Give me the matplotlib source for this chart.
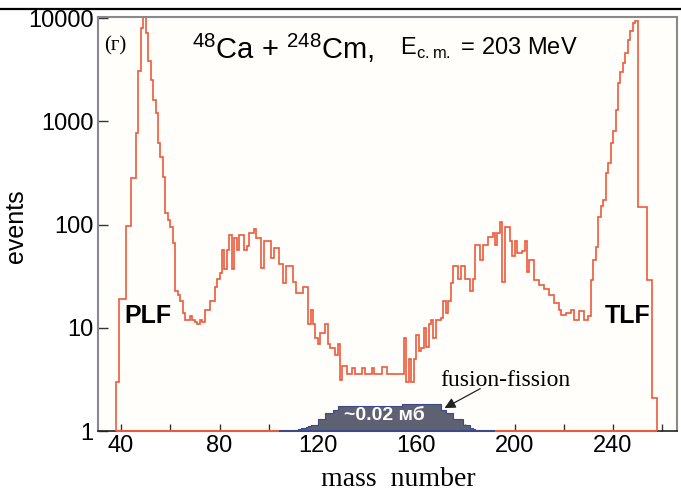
import numpy as np
import matplotlib
matplotlib.use("Agg")
from matplotlib import pyplot as plt

plt.rcParams['font.family'] = ['Liberation Sans', 'DejaVu Sans']
plt.rcParams['mathtext.fontset'] = 'custom'
plt.rcParams['mathtext.rm'] = 'Liberation Sans'

# events per unit mass bin, masses 38..257
mass_start = 38
events = [
    3, 19, 19, 19, 97, 97, 285, 285, 770, 3100,            # 38
    8000, 10500, 7200, 3900, 2500, 1600, 1200, 620, 450, 290,  # 48
    130, 110, 95, 66, 23, 21, 18, 14, 12, 12,              # 58
    13, 12, 11.5, 11, 12, 11.5, 15, 15, 18, 18,            # 68
    25, 30, 34, 57, 37, 57, 80, 37, 75, 57,                # 78
    80, 80, 57, 62, 83, 83, 90, 75, 75, 38,                # 88
    70, 70, 70, 48, 60, 60, 42, 42, 27, 40,                # 98
    40, 40, 28, 22, 22, 22, 25, 25, 11, 15,                # 108
    11, 8, 7, 9, 9, 11, 7, 6.4, 6.4, 5.5,                  # 118
    7, 3.1, 4.3, 4.3, 3.6, 3.6, 4.1, 3.6, 3.6, 3.6,        # 128
    4.1, 3.6, 3.6, 3.6, 4.1, 3.6, 3.6, 3.6, 4.2, 4.2,      # 138
    3.6, 3.6, 3.6, 3.6, 3.6, 3.6, 3.6, 8, 3.0, 5,          # 148
    3.0, 5, 8.5, 6, 6.4, 10, 6.5, 11, 12, 8,               # 158
    12, 12, 12.4, 18, 14, 18, 27, 40, 40, 30,              # 168
    40, 40, 30, 30, 23, 30, 63, 63, 45, 63,                # 178
    63, 76, 76, 83, 63, 83, 105, 28, 95, 95,               # 188
    70, 50, 70, 53, 53, 55, 70, 35, 45, 45,                # 198
    29, 29, 26, 26, 24, 24, 21, 21, 17.5, 17.5,            # 208
    15, 13.3, 13.3, 14, 14, 15, 12, 12, 14.5, 14.5,        # 218
    12, 12, 13, 29, 45, 61, 118, 150, 172, 315,            # 228
    400, 620, 800, 1280, 2350, 3000, 3700, 4600, 6200, 7500,  # 238
    9000, 9500, 148, 148, 148, 148, 29, 29, 2.1, 2.1,      # 248
]

# fusion-fission component, masses 110..185
ff_start = 110
ff_events = [
    1.02, 1.03, 1.05, 1.06, 1.08, 1.1, 1.12, 1.14, 1.14, 1.14,
    1.3, 1.3, 1.3, 1.5, 1.5, 1.5, 1.6, 1.6, 1.75, 1.75,
    1.75, 1.75, 1.75, 1.75, 1.75, 1.75, 1.75, 1.75, 1.75, 1.75,
    1.75, 1.75, 1.75, 1.75, 1.75, 1.75, 1.75, 1.75, 1.75, 1.75,
    1.75, 1.75, 1.75, 1.75, 1.83, 1.83, 1.83, 1.83, 1.83, 1.83,
    1.83, 1.83, 1.83, 1.83, 1.83, 1.83, 1.83, 1.83, 1.83, 1.83,
    1.6, 1.6, 1.5, 1.5, 1.5, 1.3, 1.3, 1.3, 1.3, 1.15,
    1.15, 1.15, 1.08, 1.05, 1.03, 1.02,
]

x_ticks = [40, 80, 120, 160, 200, 240]
y_ticks = [1, 10, 100, 1000, 10000]

edges = np.arange(mass_start, mass_start + len(events) + 1)
ff_edges = np.arange(ff_start, ff_start + len(ff_events) + 1)

red = '#ec5a3c'

fig = plt.figure(figsize=(6.81, 4.96), dpi=100)
fig.patch.set_facecolor('white')
ax = fig.add_axes([98 / 681, 65 / 496, 579 / 681, 414 / 496])
ax.set_facecolor('#fffefa')

ax.set_yscale('log')
ax.set_xlim(30.6, 266)
ax.set_ylim(1, 1.03e4)

# fusion-fission hump
ax.stairs(ff_events, ff_edges, baseline=1, fill=True, color='#5d6172', zorder=2)
ax.stairs(ff_events, ff_edges, baseline=1, color='#3c4a8c', lw=0.8, zorder=2)
ax.hlines(1, ff_edges[0] - 6, ff_edges[-1] + 6, color='#3c4a8c', lw=1.5, zorder=4, clip_on=False)

# total mass distribution
ax.stairs(events, edges, baseline=1, color=red, lw=1.2, zorder=3)
ax.hlines(1, edges[0], ff_edges[0] - 6, color=red, lw=1.5, zorder=4, clip_on=False)
ax.hlines(1, ff_edges[-1] + 6, edges[-1], color=red, lw=1.5, zorder=4, clip_on=False)

ax.set_xticks(x_ticks)
ax.set_xticks(np.arange(60, 261, 40), minor=True)
ax.set_yticks(y_ticks)
ax.set_yticklabels([str(t) for t in y_ticks])
ax.yaxis.set_minor_locator(matplotlib.ticker.NullLocator())
ax.tick_params(axis='both', which='both', direction='in', labelsize=17, color='#333333')
ax.tick_params(axis='x', which='both', length=5, width=1, pad=3)
ax.tick_params(axis='y', which='both', length=7, width=1, pad=3)

for side in ['left', 'top', 'right']:
    ax.spines[side].set_color('#8a8a8a')
    ax.spines[side].set_linewidth(1.5)
ax.spines['bottom'].set_color('#222222')
ax.spines['bottom'].set_linewidth(1.2)

ax.set_ylabel('events', fontsize=18)
ax.yaxis.set_label_coords(-0.121, 0.495)
ax.set_xlabel('mass  number', fontsize=20, family='Liberation Serif')
ax.xaxis.set_label_coords(0.518, -0.087)

ax.text(0.029, 0.93, '(г)', transform=ax.transAxes, fontsize=15,
        family='Liberation Serif', ha='center', va='center')
ax.text(0.162, 0.925, r'$^{48}$Ca + $^{248}$Cm,', transform=ax.transAxes,
        fontsize=21, ha='left', va='center')
ax.text(0.522, 0.925, r'E$_{\mathrm{c.m.}}$ = 203 MeV', transform=ax.transAxes,
        fontsize=17, ha='left', va='center')
ax.text(0.086, 0.278, 'PLF', transform=ax.transAxes, fontsize=18,
        fontweight='bold', ha='center', va='center')
ax.text(0.914, 0.278, 'TLF', transform=ax.transAxes, fontsize=18,
        fontweight='bold', ha='center', va='center')
ax.text(147, 1.42, '~0.02 мб', fontsize=14, fontweight='bold', color='white',
        ha='center', va='center', zorder=5)
ax.text(196, 3.1, 'fusion-fission', fontsize=17, family='Liberation Serif',
        ha='center', va='center')
ax.annotate('', xy=(170.5, 1.62), xytext=(187, 2.65),
            arrowprops=dict(arrowstyle='-|>', color='#222222', lw=0.9,
                            mutation_scale=16), zorder=5)

# frame line above the panel
fig.add_artist(plt.Line2D([0, 1], [1 - 9 / 496, 1 - 9 / 496], color='black', lw=1.6))

fig.savefig('out.png', dpi=100)
